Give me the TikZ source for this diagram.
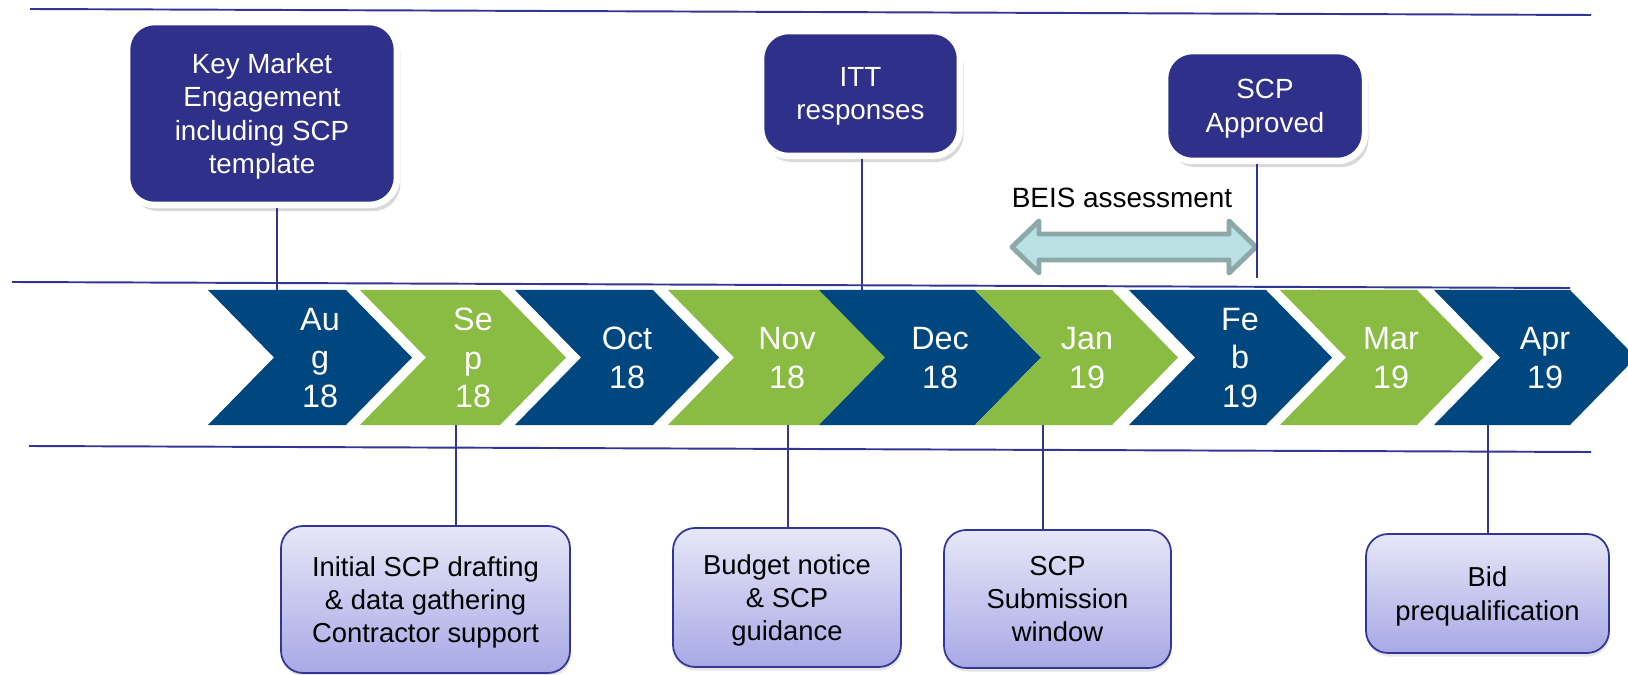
\documentclass[tikz,border=0pt]{standalone}
\usepackage{fontspec}
\setmainfont{Liberation Sans}
\usetikzlibrary{shadows}

\definecolor{navybox}{RGB}{46,48,138}
\definecolor{monthblue}{RGB}{0,71,127}
\definecolor{monthgreen}{RGB}{138,187,67}
\definecolor{rule}{RGB}{50,52,150}
\definecolor{lilactop}{RGB}{231,231,248}
\definecolor{lilacbot}{RGB}{168,168,230}
\definecolor{arrowfill}{RGB}{185,224,226}
\definecolor{arrowline}{RGB}{141,168,168}

% one chevron of the time line: (left edge:right corner)[colour]
\def\chevron(#1:#2)[#3]{\fill[#3] (#1,290) -- (#2,290) -- ++(66,67.5) -- ++(-66,67.5) -- (#1,425) -- ++(66,-67.5) -- cycle;}

\tikzset{
	month/.style={text=white, align=center, font=\fontsize{18.4}{22.1}\selectfont},
	milestone/.style={draw=white, line width=3.7pt, fill=navybox, rounded corners=0.55cm, text=white, align=center,
		text depth=-1pt, font=\fontsize{15.8}{19}\selectfont,
		drop shadow={shadow xshift=2pt, shadow yshift=-3.5pt, opacity=0.3}},
	task/.style={draw=rule, line width=1pt, top color=lilactop, bottom color=lilacbot, rounded corners=0.44cm, align=center,
		text depth=-4pt, font=\fontsize{15.6}{19}\selectfont,
		drop shadow={shadow xshift=0.5pt, shadow yshift=-2pt, opacity=0.2}},
	link/.style={draw=rule, line width=0.85pt},
}

\begin{document}
\begin{tikzpicture}[x=0.02cm, y=-0.02cm]
		%%%%% START %%%%%
		\useasboundingbox (0,0) rectangle (1628,675);
		
		\draw[rule, line width=1.1pt] (30,9) -- (1591,15);
		\draw[rule, line width=1.1pt] (12,282) -- (1570,288);
		\draw[rule, line width=1.1pt] (29,446) -- (1591,452);
		
		% months
		\chevron(208:346)[monthblue]
		\chevron(360:500)[monthgreen]
		\chevron(515:653)[monthblue]
		\chevron(668:819)[monthgreen]
		\chevron(819:975)[monthblue]
		\chevron(975:1112)[monthgreen]
		\chevron(1129:1266)[monthblue]
		\chevron(1280:1417)[monthgreen]
		\chevron(1434:1570)[monthblue]
		
		\node[month] (aug) at (320,358) {Au\\g\\18};
		\node[month] (sep) at (473,358) {Se\\p\\18};
		\node[month] (oct) at (627,358) {Oct\\18};
		\node[month] (nov) at (787,358) {Nov\\18};
		\node[month] (dec) at (940,358) {Dec\\18};
		\node[month] (jan) at (1087,358) {Jan\\19};
		\node[month] (feb) at (1240,358) {Fe\\b\\19};
		\node[month] (mar) at (1391,358) {Mar\\19};
		\node[month] (apr) at (1545,358) {Apr\\19};
		
		% milestones above the line
		\node[milestone, minimum width=5.4cm, minimum height=3.66cm] (kme) at (262,113.5) {Key Market\\Engagement\\including SCP\\template};
		\node[milestone, minimum width=3.98cm, minimum height=2.5cm] (itt) at (860.5,93.5) {ITT\\responses};
		\node[milestone, minimum width=4cm, minimum height=2.2cm] (approved) at (1265,106) {SCP\\Approved};
		
		\node[font=\fontsize{15.9}{19}\selectfont] (beis) at (1122,198) {BEIS assessment};
		\draw[arrowline, fill=arrowfill, line width=2.8pt, line join=round] (1012,247) -- (1039,221) -- (1039,234) -- (1229,234) -- (1229,221)
			-- (1256,247) -- (1229,273) -- (1229,260) -- (1039,260) -- (1039,273) -- cycle;
		
		% tasks below the line
		\node[task, minimum width=5.78cm, minimum height=2.94cm] (drafting) at (425.5,599.5) {Initial SCP drafting\\\& data gathering\\Contractor support};
		\node[task, minimum width=4.56cm, minimum height=2.78cm] (guidance) at (787,597.5) {Budget notice\\\& SCP\\guidance};
		\node[task, minimum width=4.54cm, minimum height=2.76cm] (window) at (1057.5,599) {SCP\\Submission\\window};
		\node[task, minimum width=4.86cm, minimum height=2.38cm] (prequal) at (1487.5,593.5) {Bid\\prequalification};
		
		\coordinate (aug top) at (277,290);
		\coordinate (dec top) at (862,290);
		\coordinate (feb top) at (1257,278);
		\coordinate (sep foot) at (456,425);
		\coordinate (nov foot) at (788,425);
		\coordinate (jan foot) at (1043,425);
		\coordinate (apr foot) at (1488,425);
		
		\draw[link] (kme.south -| aug top) -- (aug top);
		\draw[link] (itt.south -| dec top) -- (dec top);
		\draw[link] (approved.south -| feb top) -- (feb top);
		\draw[link] (sep foot) -- (sep foot |- drafting.north);
		\draw[link] (nov foot) -- (nov foot |- guidance.north);
		\draw[link] (jan foot) -- (jan foot |- window.north);
		\draw[link] (apr foot) -- (apr foot |- prequal.north);
		
		%%%%% END %%%%%
\end{tikzpicture}
\end{document}
